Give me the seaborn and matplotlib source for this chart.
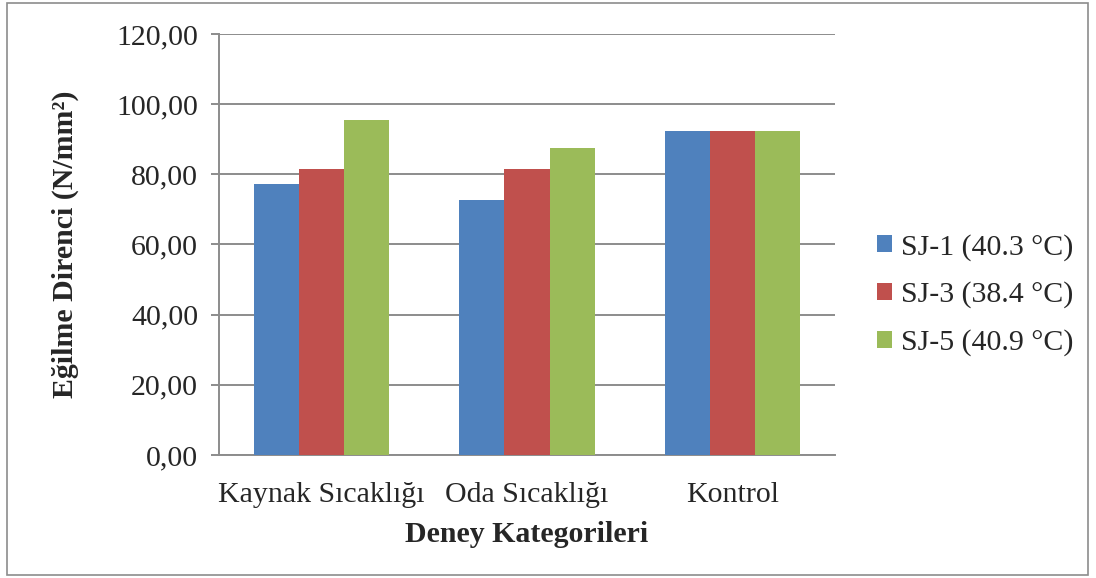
import pandas as pd
import matplotlib.pyplot as plt
import seaborn as sns
from matplotlib.patches import Rectangle
from matplotlib.ticker import FuncFormatter

# veriler
categories = ['Kaynak Sıcaklığı', 'Oda Sıcaklığı', 'Kontrol']
series = ['SJ-1 (40.3 °C)', 'SJ-3 (38.4 °C)', 'SJ-5 (40.9 °C)']
sj1 = [77.1, 72.7, 92.4]
sj3 = [81.6, 81.4, 92.4]
sj5 = [95.6, 87.5, 92.4]
colors = ['#4F81BD', '#C0504D', '#9BBB59']

data = pd.DataFrame({
    'kategori': categories * 3,
    'seri': [series[0]] * 3 + [series[1]] * 3 + [series[2]] * 3,
    'deger': sj1 + sj3 + sj5,
})

sns.set_style('white')
plt.rcParams['font.family'] = ['Liberation Serif', 'DejaVu Serif']
fs = 21.5

fig = plt.figure(figsize=(10.96, 5.78), dpi=100)
ax = fig.add_axes([0.1998, 0.2128, 0.5620, 0.7284])

sns.barplot(x='kategori', y='deger', hue='seri', data=data, palette=colors,
            width=0.66, gap=0, saturation=1, edgecolor='none', ax=ax, zorder=3)

ax.set_ylim(0, 120)
ax.set_yticks(range(0, 121, 20))
ax.yaxis.set_major_formatter(FuncFormatter(lambda v, p: f'{v:.2f}'.replace('.', ',')))
ax.set_xlim(-0.5, 2.5)

ax.grid(axis='y', color='#8c8c8c', linewidth=1.4, zorder=0)
ax.set_axisbelow(True)
for s in ['top', 'right']:
    ax.spines[s].set_visible(False)
for s in ['left', 'bottom']:
    ax.spines[s].set_color('#8c8c8c')
    ax.spines[s].set_linewidth(1.4)

ax.tick_params(axis='y', which='major', left=True, length=6, width=1.4,
               color='#8c8c8c', labelsize=fs, pad=9)
ax.tick_params(axis='x', bottom=False, labelsize=fs, pad=16)

ax.set_xlabel('Deney Kategorileri', fontsize=fs, fontweight='bold', labelpad=9)
ax.set_ylabel('Eğilme Direnci (N/mm²)', fontsize=fs, fontweight='bold', labelpad=27)

leg = ax.legend(loc='center left', bbox_to_anchor=(1.068, 0.38), frameon=False,
                fontsize=fs, handlelength=0.5, handleheight=0.5, handletextpad=0.3,
                labelspacing=0.7, borderaxespad=0, borderpad=0)

# dış çerçeve
fig.patches.append(Rectangle((7 / 1096, 3 / 578), 1081 / 1096, 572 / 578,
                             transform=fig.transFigure, fill=False,
                             edgecolor='#8c8c8c', linewidth=1.2))

fig.savefig('out.png', dpi=100)
